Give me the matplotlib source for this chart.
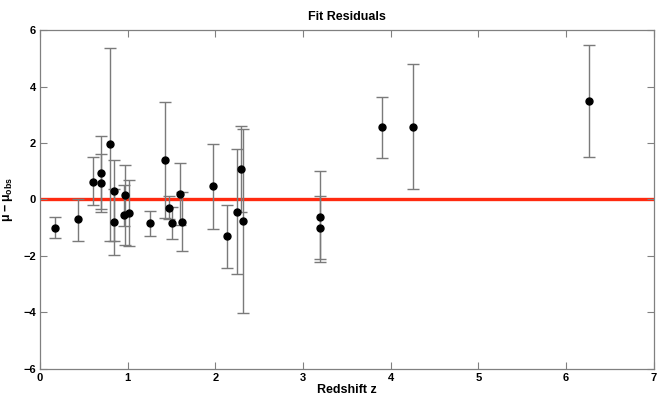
import matplotlib
matplotlib.use("Agg")
import matplotlib.pyplot as plt

# redshift, residual, upper error, lower error
z = [0.17, 0.43, 0.61, 0.70, 0.70, 0.80, 0.84, 0.84, 0.97, 0.96, 1.02, 1.25,
     1.43, 1.47, 1.51, 1.60, 1.62, 1.97, 2.13, 2.25, 2.29, 2.31, 3.19, 3.19,
     3.90, 4.25, 6.26]
resid = [-1.00, -0.69, 0.63, 0.95, 0.58, 1.95, 0.30, -0.78, 0.15, -0.55, -0.48, -0.84,
         1.40, -0.29, -0.83, 0.20, -0.80, 0.47, -1.30, -0.43, 1.08, -0.77, -0.62, -1.01,
         2.56, 2.56, 3.50]
err_hi = [0.39, 0.69, 0.87, 1.30, 1.04, 3.42, 1.09, 1.16, 1.06, 1.05, 1.16, 0.44,
          2.04, 0.41, 0.58, 1.10, 1.05, 1.51, 1.12, 2.23, 1.51, 3.28, 1.64, 1.13,
          1.08, 2.23, 1.97]
err_lo = [0.35, 0.77, 0.82, 1.29, 1.01, 3.41, 2.25, 0.68, 1.76, 0.39, 1.17, 0.45,
          2.04, 0.41, 0.58, 1.09, 1.03, 1.50, 1.11, 2.21, 1.51, 3.26, 1.50, 1.20,
          1.09, 2.20, 1.98]

xticks = [0, 1, 2, 3, 4, 5, 6, 7]
yticks = [-6, -4, -2, 0, 2, 4, 6]

plt.rcParams['font.family'] = ['Liberation Sans', 'DejaVu Sans']
plt.rcParams['font.weight'] = 'bold'

fig = plt.figure(figsize=(6.72, 4.01), dpi=100)
ax = fig.add_axes([0.0595, 0.08, 0.9135, 0.845])

ax.axhline(0, color='#ff2a10', lw=2.4, zorder=1)
ax.errorbar(z, resid, yerr=[err_lo, err_hi], fmt='o', color='black', ms=5,
            ecolor='#7a7a7a', elinewidth=1.0, capsize=4, capthick=1.0, zorder=3)

ax.set_xlim(0, 7)
ax.set_ylim(-6, 6)
ax.set_xticks(xticks)
ax.set_yticks(yticks)
ax.tick_params(direction='in', top=True, right=True, length=5, width=0.8,
               color='#808080', labelsize=8, pad=3)
for s in ax.spines.values():
    s.set_color('#808080')
    s.set_linewidth(0.9)

ax.set_title('Fit Residuals', fontsize=9, fontweight='bold', pad=7)
ax.set_xlabel('Redshift z', fontsize=9, fontweight='bold', labelpad=1)
ax.set_ylabel(r'$\mathregular{\mu - \mu_{obs}}$', fontsize=9, fontweight='bold', labelpad=6)

fig.savefig('out.png', dpi=100)
